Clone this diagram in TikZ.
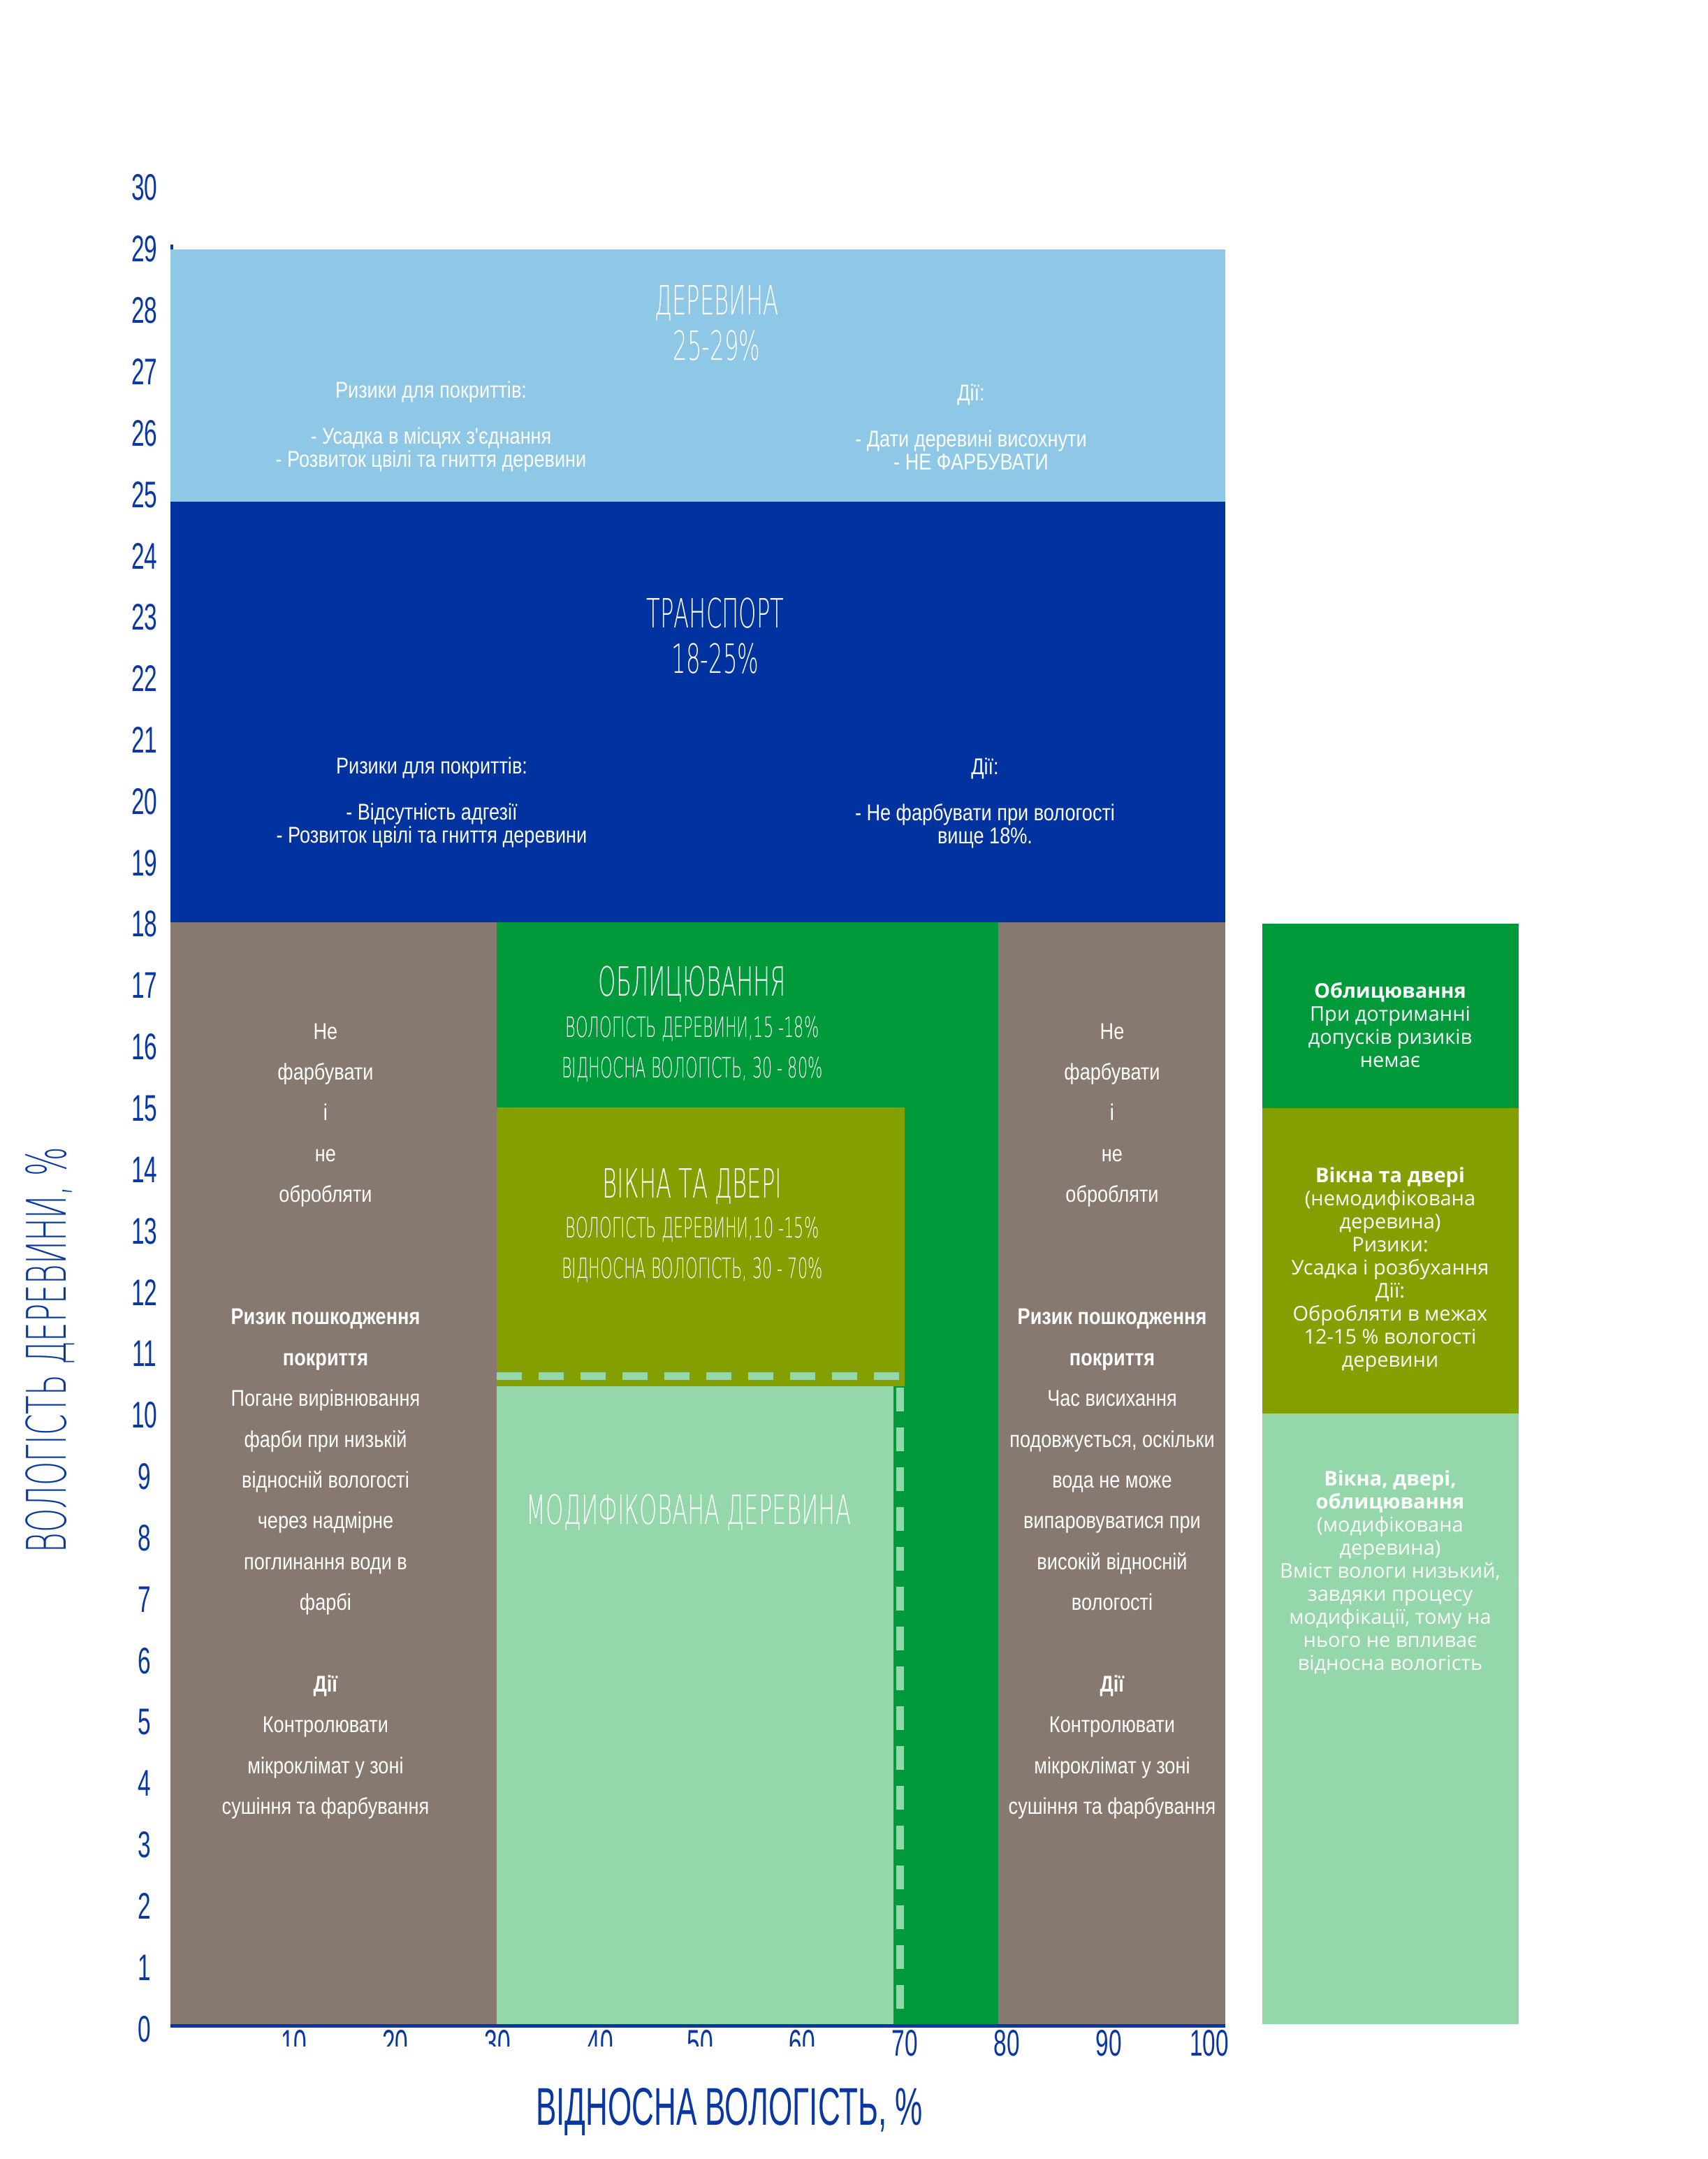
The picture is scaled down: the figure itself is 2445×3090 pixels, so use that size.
\documentclass[tikz,border=0pt]{standalone}
\usepackage{fontspec}
\setmainfont{Liberation Sans}
\newfontfamily\thinfont[FakeStretch=0.56,Extension=.ttf]{DejaVuSans-ExtraLight}
\newfontfamily\narrowfont[FakeStretch=0.83]{Liberation Sans}
\newfontfamily\numfont[FakeStretch=0.63]{Liberation Sans}
\newfontfamily\xtitlefont[FakeStretch=0.58]{Liberation Sans}
\newfontfamily\legendfont{Open Sans}
\definecolor{woodblue}{HTML}{8EC8E6}
\definecolor{transblue}{HTML}{0033A0}
\definecolor{brownzone}{HTML}{877870}
\definecolor{cladgreen}{HTML}{009A3B}
\definecolor{windowolive}{HTML}{84A000}
\definecolor{modgreen}{HTML}{94D7AB}
\definecolor{axisblue}{HTML}{0A38A3}
\tikzset{
  zonetitle/.style={text=white, align=center, font=\thinfont\fontsize{17.3}{19.5}\selectfont},
  zonesub/.style={text=white, align=center, font=\thinfont\fontsize{12}{17.4}\selectfont},
  zonenote/.style={text=white, align=center, font=\narrowfont\fontsize{9.8}{9.9}\selectfont},
  sidenote/.style={text=white, align=center, font=\narrowfont\fontsize{9.8}{17.52}\selectfont},
  legendtext/.style={text=white, align=center, font=\legendfont\fontsize{8.7}{9.9}\selectfont},
  ticklabel/.style={text=axisblue, font=\numfont\fontsize{15.9}{16}\selectfont},
  dashline/.style={modgreen, line width=3.3pt}
}
\begin{document}
\begin{tikzpicture}[x=0.3pt, y=-0.3pt]
\useasboundingbox (0,0) rectangle (2445,3090);
\fill[white] (0,0) rectangle (2445,3090);

\draw[axisblue, line width=1.2pt] (246,2899) -- (246,350);
\fill[woodblue] (244,357) rectangle (1754,718);
\fill[transblue] (244,718) rectangle (1754,1320);
\fill[brownzone] (244,1320) rectangle (711,2897);
\fill[brownzone] (1429,1320) rectangle (1754,2897);
\fill[cladgreen] (711,1320) rectangle (1429,2897);
\fill[windowolive] (711,1585) rectangle (1295,1984);
\fill[modgreen] (711,1984) rectangle (1279,2897);
\draw[dashline, dash pattern=on 10.8pt off 7.2pt] (711,1969) -- (1295,1969);
\draw[dashline, dash pattern=on 10.2pt off 6.9pt] (1288.5,1986) -- (1288.5,2897);
\draw[axisblue, line width=1.5pt] (244,2899) -- (1754,2899);

\fill[cladgreen] (1807,1322) rectangle (2174,1586);
\fill[windowolive] (1807,1586) rectangle (2174,2023);
\fill[modgreen] (1807,2023) rectangle (2174,2897);

\node[zonetitle] (woodtitle) at (1026,462) {ДЕРЕВИНА\\25-29\%};
\node[zonenote] (woodrisk) at (617,611) {Ризики для покриттів:\\[9.9pt]- Усадка в місцях з'єднання\\- Розвиток цвілі та гниття деревини};
\node[zonenote] (woodact) at (1390,611) {Дії:\\[9.9pt]- Дати деревині висохнути\\- НЕ ФАРБУВАТИ};

\node[zonetitle] (transtitle) at (1024,910) {ТРАНСПОРТ\\18-25\%};
\node[zonenote] (transrisk) at (618,1149) {Ризики для покриттів:\\[9.9pt]- Відсутність адгезії\\- Розвиток цвілі та гниття деревини};
\node[zonenote] (transact) at (1410,1149) {Дії:\\[9.9pt]- Не фарбувати при вологості\\вище 18\%.};

\node[zonetitle] (cladtitle) at (991,1409) {ОБЛИЦЮВАННЯ};
\node[zonesub] (cladsub) at (991,1502) {ВОЛОГІСТЬ ДЕРЕВИНИ,15 -18\%\\ВІДНОСНА ВОЛОГІСТЬ, 30 - 80\%};
\node[zonetitle] (wintitle) at (991,1698) {ВІКНА ТА ДВЕРІ};
\node[zonesub] (winsub) at (991,1789) {ВОЛОГІСТЬ ДЕРЕВИНИ,10 -15\%\\ВІДНОСНА ВОЛОГІСТЬ, 30 - 70\%};
\node[zonetitle] (modtitle) at (986,2165) {МОДИФІКОВАНА ДЕРЕВИНА};

\node[sidenote] (lowrh) at (466,2034) {Не\\фарбувати\\і\\не\\обробляти\\[35.04pt]
  \textbf{Ризик пошкодження}\\\textbf{покриття}\\Погане вирівнювання\\фарби при низькій\\відносній вологості\\через надмірне\\поглинання води в\\фарбі\\[17.52pt]
  \textbf{Дії}\\Контролювати\\мікроклімат у зоні\\сушіння та фарбування};
\node[sidenote] (highrh) at (1592,2034) {Не\\фарбувати\\і\\не\\обробляти\\[35.04pt]
  \textbf{Ризик пошкодження}\\\textbf{покриття}\\Час висихання\\подовжується, оскільки\\вода не може\\випаровуватися при\\високій відносній\\вологості\\[17.52pt]
  \textbf{Дії}\\Контролювати\\мікроклімат у зоні\\сушіння та фарбування};

\node[legendtext] (legclad) at (1990,1467) {\textbf{Облицювання}\\При дотриманні\\допусків ризиків\\немає};
\node[legendtext] (legwin) at (1990,1817) {\textbf{Вікна та двері}\\(немодифікована\\деревина)\\Ризики:\\Усадка і розбухання\\Дії:\\Обробляти в межах\\12-15 \% вологості\\деревини};
\node[legendtext] (legmod) at (1990,2250) {\textbf{Вікна, двері,}\\\textbf{облицювання}\\(модифікована\\деревина)\\Вміст вологи низький,\\завдяки процесу\\модифікації, тому на\\нього не впливає\\відносна вологість};

\foreach \v in {0,...,30}
  \node[ticklabel] (ytick\v) at (207,2904-87.85*\v) {\v};
\begin{scope}
\clip (300,2880) rectangle (1220,2928);
\foreach \v/\px in {10/421,20/566,30/712,40/859,50/1002,60/1148}
  \node[ticklabel] (xtick\v) at (\px,2924) {\v};
\end{scope}
\foreach \v/\px in {70/1295,80/1441,90/1587,100/1731}
  \node[ticklabel] (xtick\v) at (\px,2924) {\v};

\node[text=axisblue, font=\xtitlefont\fontsize{22.8}{24}\selectfont] (xtitle) at (1044,3022) {ВІДНОСНА ВОЛОГІСТЬ, \%};
\node[text=axisblue, font=\thinfont\fontsize{23.4}{24}\selectfont, rotate=90] (ytitle) at (72,1932) {ВОЛОГІСТЬ ДЕРЕВИНИ, \%};
\end{tikzpicture}
\end{document}
